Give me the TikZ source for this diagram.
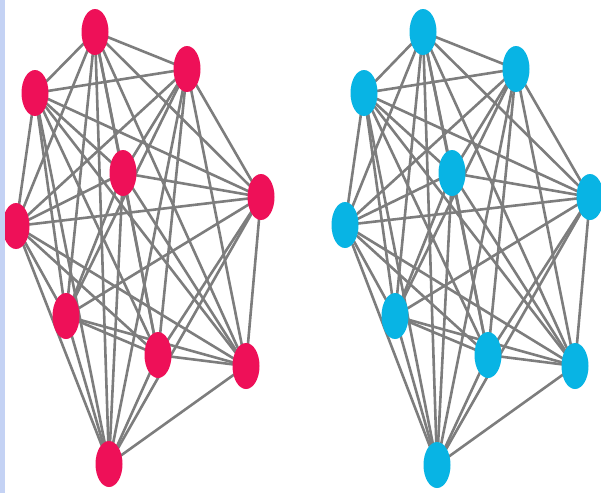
\documentclass[tikz,border=0pt]{standalone}
\usetikzlibrary{shapes.geometric,backgrounds}
\definecolor{pinknode}{RGB}{238,16,88}
\definecolor{cyannode}{RGB}{8,180,228}
\definecolor{edgegray}{RGB}{125,125,125}
\definecolor{stripblue}{RGB}{196,210,244}
\tikzset{
  vtx/.style={ellipse, minimum width=27pt, minimum height=46pt, inner sep=0pt, draw=none},
  pinkv/.style={vtx, fill=pinknode},
  cyanv/.style={vtx, fill=cyannode},
  link/.style={draw=edgegray, line width=2.6pt},
}
\begin{document}
\begin{tikzpicture}[x=1pt,y=-1pt]
\useasboundingbox (0,0) rectangle (601,493);
% left graph
\foreach \n/\x/\y in {1/95/32,2/35/93,3/187/69,4/123/173,5/261/197,6/16/226,7/66/316,8/158/355,9/246/366,10/109/464}{
  \node[pinkv] (L\n) at (\x,\y) {};
}
% right graph
\foreach \n/\x/\y in {1/423/32,2/364/93,3/516/69,4/452/173,5/590/197,6/345/225,7/395/316,8/488/355,9/575/366,10/437/465}{
  \node[cyanv] (R\n) at (\x,\y) {};
}
\begin{scope}[on background layer]
\foreach \i in {1,...,10}{
  \foreach \j in {1,...,10}{
    \ifnum\j>\i
      \draw[link] (L\i.center) -- (L\j.center);
      \draw[link] (R\i.center) -- (R\j.center);
    \fi
  }
}
\end{scope}
\fill[stripblue] (0,0) rectangle (5,493);
\end{tikzpicture}
\end{document}
